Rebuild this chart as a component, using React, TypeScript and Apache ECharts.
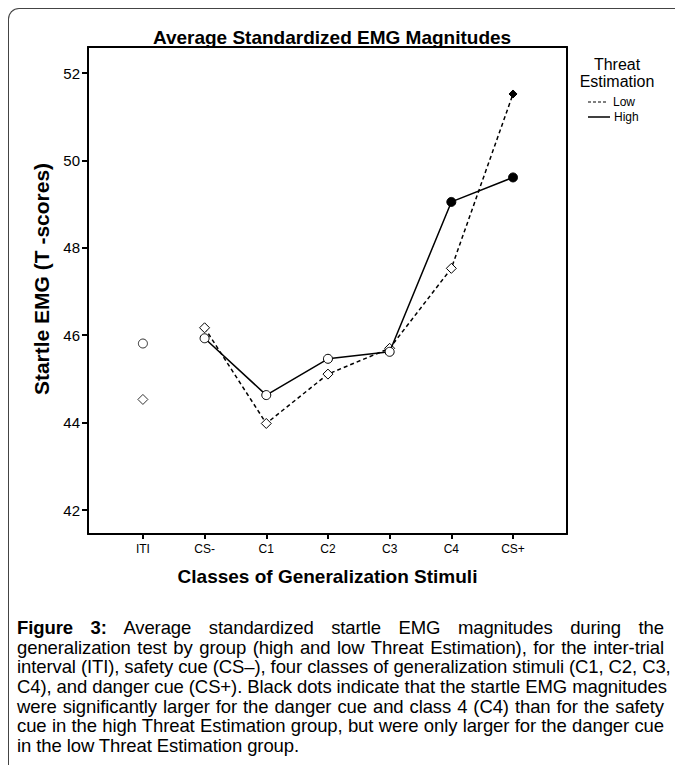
import React, { useEffect, useRef } from "react";
import * as echarts from "echarts";

const categories = ["ITI", "CS-", "C1", "C2", "C3", "C4", "CS+"];
const highValues = [45.81, 45.93, 44.63, 45.46, 45.62, 49.05, 49.61];
const lowValues = [44.53, 46.17, 43.98, 45.11, 45.7, 47.53, 51.52];
const highSignificant = [false, false, false, false, false, true, true];
const lowSignificant = [false, false, false, false, false, false, true];
const yTicks = [42, 44, 46, 48, 50, 52];
const xTicks = [0, 1, 2, 3, 4, 5, 6];

const captionLines = [
  "Average standardized startle EMG magnitudes during the",
  "generalization test by group (high and low Threat Estimation), for the inter-trial",
  "interval (ITI), safety cue (CS–), four classes of generalization stimuli (C1, C2, C3,",
  "C4), and danger cue (CS+). Black dots indicate that the startle EMG magnitudes",
  "were significantly larger for the danger cue and class 4 (C4) than for the safety",
  "cue in the high Threat Estimation group, but were only larger for the danger cue",
  "in the low Threat Estimation group.",
];

const FONT = "'Liberation Sans', Arial, Helvetica, sans-serif";

function point(values: number[], sig: boolean[], i: number, emptySize: number, filledSize: number) {
  return {
    value: [i, values[i]],
    symbolSize: sig[i] ? filledSize : emptySize,
    itemStyle: sig[i]
      ? { color: "#000", borderColor: "#000", borderWidth: 1 }
      : { color: "#fff", borderColor: "#000", borderWidth: 1 },
  };
}

const X_MIN = -0.89;
const X_MAX = 6.875;
const Y_MIN = 41.451;
const Y_MAX = 52.595;

export default function App() {
  const ref = useRef<HTMLDivElement>(null);

  useEffect(() => {
    if (!ref.current) return;
    const chart = echarts.init(ref.current, undefined, { renderer: "svg" });
    const idx = xTicks.slice(1);
    const frameLine = { show: true, onZero: false, lineStyle: { color: "#000", width: 2 } };
    const option: any = {
      animation: false,
      backgroundColor: "transparent",
      textStyle: { fontFamily: FONT },
      title: {
        text: "Average Standardized EMG Magnitudes",
        left: 327,
        top: 23,
        textAlign: "center",
        textStyle: { fontFamily: FONT, fontSize: 19, fontWeight: "bold", color: "#000" },
      },
      grid: {
        left: 88,
        top: 47,
        width: 479,
        height: 487,
        show: false,
      },
      xAxis: [
        {
          type: "value",
          min: X_MIN,
          max: X_MAX,
          name: "Classes of Generalization Stimuli",
          nameLocation: "middle",
          nameGap: 33,
          nameTextStyle: { fontFamily: FONT, fontSize: 19, fontWeight: "bold", color: "#000" },
          axisLine: frameLine,
          splitLine: { show: false },
          axisTick: {
            show: true,
            inside: false,
            length: 5,
            customValues: xTicks,
            lineStyle: { color: "#000", width: 2 },
          },
          axisLabel: {
            customValues: xTicks,
            formatter: (v: number) => categories[Math.round(v)] ?? "",
            fontFamily: FONT,
            fontSize: 12,
            color: "#000",
            margin: 9,
          },
        },
        {
          type: "value",
          position: "top",
          min: X_MIN,
          max: X_MAX,
          axisLine: frameLine,
          axisTick: { show: false },
          axisLabel: { show: false },
          splitLine: { show: false },
        },
      ],
      yAxis: [
        {
          type: "value",
          min: Y_MIN,
          max: Y_MAX,
          axisLine: frameLine,
          splitLine: { show: false },
          axisTick: {
            show: true,
            inside: false,
            length: 6,
            customValues: yTicks,
            lineStyle: { color: "#000", width: 2 },
          },
          axisLabel: {
            customValues: yTicks,
            fontFamily: FONT,
            fontSize: 15,
            color: "#000",
            margin: 8,
          },
        },
        {
          type: "value",
          position: "right",
          min: Y_MIN,
          max: Y_MAX,
          axisLine: frameLine,
          axisTick: { show: false },
          axisLabel: { show: false },
          splitLine: { show: false },
        },
      ],
      graphic: [
        {
          type: "text",
          x: 41,
          y: 279,
          rotation: Math.PI / 2,
          style: {
            text: "Startle EMG (T -scores)",
            font: `bold 21px ${FONT}`,
            fill: "#000",
            textAlign: "center",
            textVerticalAlign: "middle",
          },
        },
        {
          type: "text",
          x: 617,
          y: 73,
          style: {
            text: "Threat\nEstimation",
            font: `16px ${FONT}`,
            lineHeight: 17,
            fill: "#000",
            textAlign: "center",
            textVerticalAlign: "middle",
          },
        },
        {
          type: "line",
          shape: { x1: 588, y1: 102, x2: 608, y2: 102 },
          style: { stroke: "#000", lineWidth: 1.2, lineDash: [3, 2] },
        },
        {
          type: "text",
          x: 613,
          y: 102,
          style: { text: "Low", font: `12px ${FONT}`, fill: "#000", textAlign: "left", textVerticalAlign: "middle" },
        },
        {
          type: "line",
          shape: { x1: 588, y1: 117, x2: 610, y2: 117 },
          style: { stroke: "#000", lineWidth: 1.5 },
        },
        {
          type: "text",
          x: 614,
          y: 117,
          style: { text: "High", font: `12px ${FONT}`, fill: "#000", textAlign: "left", textVerticalAlign: "middle" },
        },
      ],
      series: [
        {
          name: "Low",
          type: "line",
          symbol: "diamond",
          data: idx.map((i) => point(lowValues, lowSignificant, i, 10, 8)),
          lineStyle: { color: "#000", width: 1.5, type: [4, 3] },
          z: 3,
        },
        {
          name: "High",
          type: "line",
          symbol: "circle",
          data: idx.map((i) => point(highValues, highSignificant, i, 9, 9)),
          lineStyle: { color: "#000", width: 1.5, type: "solid" },
          z: 4,
        },
        {
          name: "Low ITI",
          type: "scatter",
          symbol: "diamond",
          data: [point(lowValues, lowSignificant, 0, 10, 8)],
          z: 3,
        },
        {
          name: "High ITI",
          type: "scatter",
          symbol: "circle",
          data: [point(highValues, highSignificant, 0, 9, 9)],
          z: 4,
        },
      ],
    };
    chart.setOption(option);
    return () => chart.dispose();
  }, []);

  const lineH = 19.6;
  return (
    <div
      style={{
        position: "fixed",
        left: 0,
        top: 0,
        width: 675,
        height: 765,
        overflow: "hidden",
        background: "#fff",
        fontFamily: FONT,
      }}
    >
      <div
        style={{
          position: "absolute",
          left: 8,
          top: 8,
          width: 720,
          height: 820,
          borderLeft: "1px solid #444",
          borderTop: "1px solid #444",
          borderTopLeftRadius: 11,
          boxSizing: "border-box",
        }}
      />
      <div ref={ref} style={{ position: "absolute", left: 0, top: 0, width: 675, height: 610 }} />
      <div
        style={{
          position: "absolute",
          left: 17,
          top: 628 - lineH / 2,
          width: 647,
          fontSize: 18.5,
          letterSpacing: -0.1,
          lineHeight: `${lineH}px`,
          color: "#000",
          fontFamily: FONT,
        }}
      >
        {captionLines.map((t, i) => (
          <div
            key={i}
            style={{
              textAlign: "justify",
              textAlignLast: i === captionLines.length - 1 ? "left" : "justify",
              whiteSpace: "nowrap",
              height: lineH,
            }}
          >
            {i === 0 ? (
              <>
                <b>Figure 3:</b> {t}
              </>
            ) : (
              t
            )}
          </div>
        ))}
      </div>
    </div>
  );
}
